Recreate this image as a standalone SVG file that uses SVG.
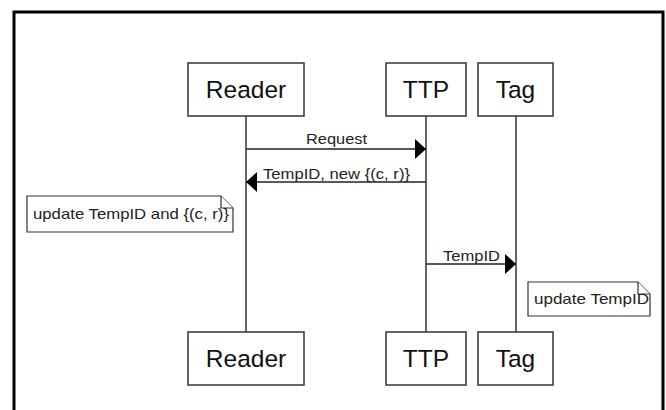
<svg xmlns="http://www.w3.org/2000/svg" width="666" height="410" viewBox="0 0 666 410">
  <style>
    .frame { fill: none; stroke: #000; stroke-width: 3; }
    .box { fill: #fff; stroke: #333; stroke-width: 1.5; }
    .life { stroke: #333; stroke-width: 1.5; }
    .msg { stroke: #222; stroke-width: 1.5; fill: none; }
    .title { font-family: "Liberation Sans", Arial, sans-serif; font-size: 24.5px; fill: #111; text-anchor: middle; }
    .lbl { font-family: "Liberation Sans", Arial, sans-serif; font-size: 14.5px; fill: #222; }
    .note { fill: #fff; stroke: #333; stroke-width: 1.2; }
  </style>
  <defs>
    <marker id="arrow" viewBox="0 0 11 20" refX="11" refY="10" markerWidth="11" markerHeight="20" markerUnits="userSpaceOnUse" orient="auto">
      <path d="M0,0 L11,10 L0,20 Z" fill="#000"/>
    </marker>
  </defs>

  <rect width="666" height="410" fill="#fff"/>
  <!-- outer frame (open at the bottom) -->
  <path class="frame" d="M14,412 V12 H663 V412"/>

  <!-- lifelines -->
  <g id="lifelines">
    <line class="life" x1="246" y1="116" x2="246" y2="332"/>
    <line class="life" x1="426" y1="116" x2="426" y2="332"/>
    <line class="life" x1="516" y1="116" x2="516" y2="332"/>
  </g>

  <g id="reader-top">
    <rect class="box" x="188" y="63" width="116" height="53"/>
    <text class="title" x="246" y="98">Reader</text>
  </g>
  <g id="ttp-top">
    <rect class="box" x="386" y="63" width="80" height="53"/>
    <text class="title" x="426" y="98">TTP</text>
  </g>
  <g id="tag-top">
    <rect class="box" x="478" y="63" width="75" height="53"/>
    <text class="title" x="515.5" y="98">Tag</text>
  </g>

  <g id="reader-bottom">
    <rect class="box" x="188" y="332" width="116" height="53"/>
    <text class="title" x="246" y="367">Reader</text>
  </g>
  <g id="ttp-bottom">
    <rect class="box" x="386" y="332" width="80" height="53"/>
    <text class="title" x="426" y="367">TTP</text>
  </g>
  <g id="tag-bottom">
    <rect class="box" x="478" y="332" width="75" height="53"/>
    <text class="title" x="515.5" y="367">Tag</text>
  </g>

  <!-- messages -->
  <g id="connectors">
    <line class="msg" x1="246" y1="149" x2="426" y2="149" marker-end="url(#arrow)"/>
    <text class="lbl" x="306" y="144" textLength="61" lengthAdjust="spacingAndGlyphs">Request</text>

    <line class="msg" x1="426" y1="182" x2="246" y2="182" marker-end="url(#arrow)"/>
    <text class="lbl" x="263" y="179" textLength="147" lengthAdjust="spacingAndGlyphs">TempID, new {(c, r)}</text>

    <line class="msg" x1="426" y1="264" x2="516" y2="264" marker-end="url(#arrow)"/>
    <text class="lbl" x="443" y="261" textLength="57" lengthAdjust="spacingAndGlyphs">TempID</text>
  </g>

  <g id="note-reader">
    <path class="note" d="M27,196 H221 L233,208 V232 H27 Z"/>
    <path class="note" d="M221,196 V208 H233" fill="none"/>
    <text class="lbl" x="33" y="219" textLength="196" lengthAdjust="spacingAndGlyphs">update TempID and {(c, r)}</text>
  </g>

  <g id="note-tag">
    <path class="note" d="M528,282 H638 L650,294 V316 H528 Z"/>
    <path class="note" d="M638,282 V294 H650" fill="none"/>
    <text class="lbl" x="534" y="304" textLength="115" lengthAdjust="spacingAndGlyphs">update TempID</text>
  </g>
</svg>
